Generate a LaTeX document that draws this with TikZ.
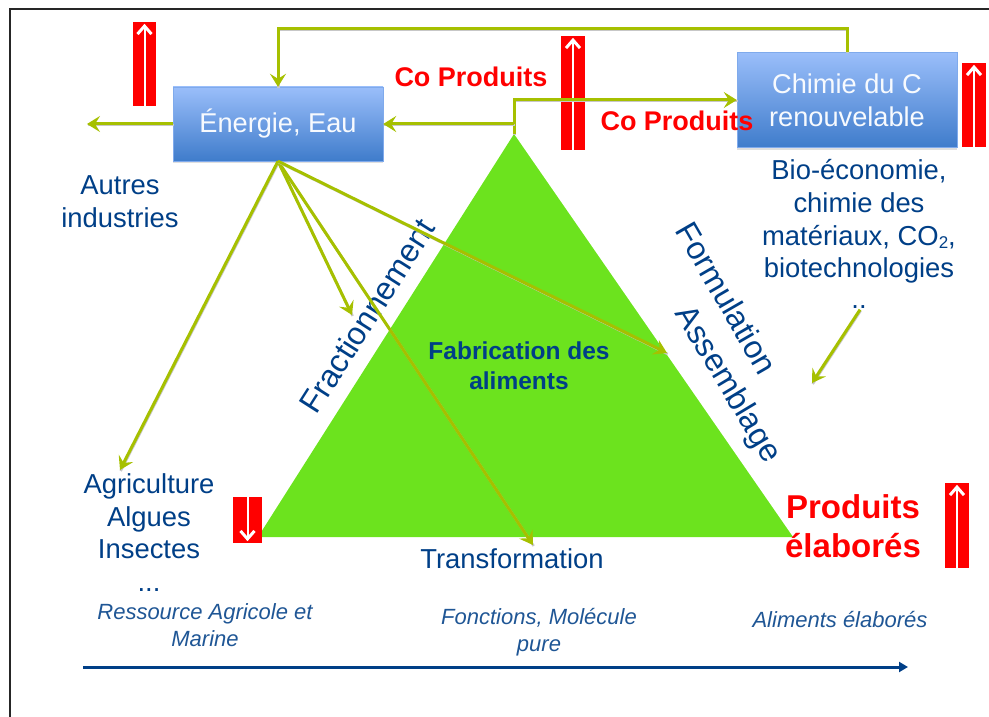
\documentclass[tikz,border=0pt]{standalone}
\usepackage{fontspec}
\usepackage{xcolor}
\usepackage{tikz}
\usetikzlibrary{arrows.meta,shadows}
\setmainfont{Liberation Sans}

\definecolor{bluetext}{HTML}{003F87}
\definecolor{olive}{HTML}{A6C000}
\definecolor{leaf}{HTML}{6CE31E}
\definecolor{boxtop}{HTML}{9ABEFA}
\definecolor{boxbottom}{HTML}{3F7CCB}

\tikzset{
    energybox/.style={draw=boxtop!70!boxbottom, top color=boxtop, bottom color=boxbottom, text=white!92!boxtop, align=center,
        font=\fontsize{27.2}{33}\selectfont, inner sep=0pt, drop shadow={shadow xshift=0pt, shadow yshift=-2pt, opacity=.25}},
    bluelabel/.style={text=bluetext, align=center, inner sep=0pt, font=\fontsize{27.4}{32.8}\selectfont},
    sidelabel/.style={bluelabel, font=\fontsize{32}{40}\selectfont},
    notelabel/.style={bluelabel, text=bluetext!88, font=\fontsize{22}{26.5}\selectfont\itshape},
    redlabel/.style={text=red, align=center, inner sep=0pt, font=\fontsize{27}{33}\selectfont\bfseries},
    redbar/.style={fill=red, inner sep=0pt},
    whitearrow/.style={draw=white, line width=2pt, -{Straight Barb[length=8pt,width=14pt,line width=3pt]}},
    greenarrow/.style={draw=olive, line width=3pt, -{Stealth[length=13pt,width=16pt,inset=5pt]},
        preaction={draw=black!22, line width=2.5pt, -, transform canvas={shift={(0.7pt,-1pt)}}}},
}

\begin{document}
\begin{tikzpicture}[x=1pt,y=-1pt]
    \useasboundingbox (0,0) rectangle (989,717);

    % Frame, left and top only
    \draw[line width=2pt, black!85] (10,717) -- (10,9) -- (989,9);

    % Triangle
    \coordinate (apex) at (514,134);
    \coordinate (left) at (258,537);
    \coordinate (right) at (793,537);
    \fill[leaf] (apex) -- (left) -- (right) -- cycle;

    % Red bars with a white arrow
    \foreach \name/\x/\y/\w/\h in {barenergy/144.5/64/23/84, barco/573/93/24/114, barchimie/974/105/24/84, barproduits/957/525.5/24/85} {
        \node[redbar, minimum width=\w, minimum height=\h] (\name) at (\x,\y) {};
        \draw[whitearrow] (\name.south) -- ([yshift=-2pt]\name.north);
    }
    \node[redbar, minimum width=29, minimum height=46] (barferme) at (247.5,520) {};
    \draw[whitearrow] (barferme.north) -- ([yshift=2pt]barferme.south);

    % Boxes
    \node[energybox, minimum width=210, minimum height=74] (energie) at (278,124) {Énergie, Eau};
    \node[energybox, minimum width=220, minimum height=95] (chimie) at (847,100) {Chimie du C\\renouvelable};

    % Labels around the triangle
    \node[bluelabel] (autres) at (120,201.5) {Autres\\industries};
    \node[bluelabel] (bio) at (859,221.5) {Bio-économie,\\chimie des\\matériaux, CO\raisebox{-3pt}{\fontsize{17}{17}\selectfont 2},\\biotechnologies};
    \node[bluelabel] (dots) at (859,307) {..};
    \node[bluelabel] (agri) at (149,532.5) {Agriculture\\Algues\\Insectes\\...};
    \node[bluelabel] (transfo) at (512,559) {Transformation};
    \node[bluelabel, font=\fontsize{24.5}{30}\selectfont\bfseries] (fabrication) at (519,366) {Fabrication des\\aliments};
    \node[sidelabel, rotate=57.5] (fraction) at (367,316) {Fractionnement};
    \node[sidelabel, rotate=-60] (formulation) at (727,298) {Formulation};
    \node[sidelabel, rotate=-59] (assemblage) at (727,385) {Assemblage};

    % Notes along the bottom
    \node[notelabel] (ressource) at (205,625) {Ressource Agricole et\\Marine};
    \node[notelabel] (fonctions) at (539,632) {Fonctions, Molécule\\pure};
    \node[notelabel] (aliments) at (840,620) {Aliments élaborés};

    % Arrow ends
    \coordinate (endautres) at (87,124);
    \coordinate (endagri) at (120,470);
    \coordinate (endmid) at (352,315);
    \coordinate (endtransfo) at (533,545);
    \coordinate (endform) at (667,353);
    \coordinate (endbio) at (812,383);
    \coordinate (axisstart) at (83,667);
    \coordinate (axisend) at (908,667);

    % Connectors
    \draw[greenarrow] (chimie.north) -- ++(0,-24) -| (energie.north);
    \draw[greenarrow] (apex) |- (chimie.west);
    \draw[greenarrow] (apex |- energie.east) -- (energie.east);
    \draw[greenarrow] (energie.west) -- (endautres);
    \foreach \target in {endagri, endmid, endtransfo, endform} {
        \draw[greenarrow] (energie.south) -- (\target);
    }
    \draw[greenarrow] ([xshift=1pt,yshift=-1pt]dots.south) -- (endbio);
    \draw[draw=bluetext, line width=3pt, -{Triangle[length=9pt,width=10pt]}] (axisstart) -- (axisend);

    % Red labels go last
    \node[redlabel] (coenergie) at (471,77) {Co Produits};
    \node[redlabel] (cochimie) at (677,121) {Co Produits};
    \node[redlabel, font=\fontsize{33}{39.5}\selectfont\bfseries] (produits) at (853,526) {Produits\\élaborés};

\end{tikzpicture}
\end{document}
